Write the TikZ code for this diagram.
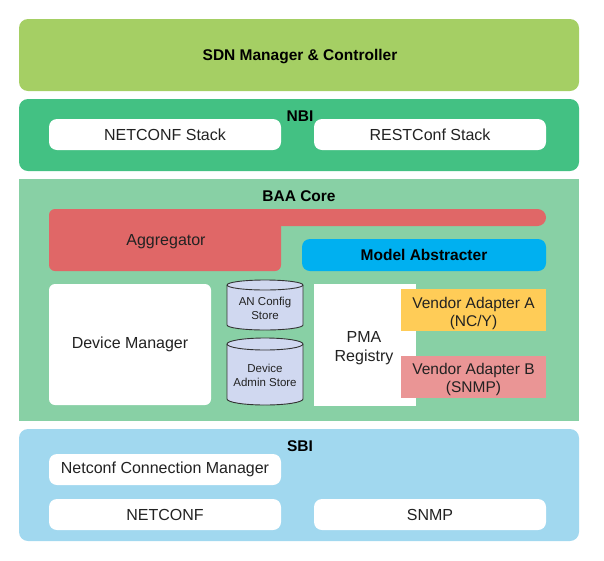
\documentclass[tikz,border=0pt]{standalone}
\usepackage{fontspec}
\setmainfont{Liberation Sans}
\definecolor{sdncol}{HTML}{A5CF64}
\definecolor{nbicol}{HTML}{43C183}
\definecolor{baacol}{HTML}{88D0A5}
\definecolor{aggcol}{HTML}{E06767}
\definecolor{modcol}{HTML}{00B0F0}
\definecolor{cylcol}{HTML}{D0D8F0}
\definecolor{vacol}{HTML}{FFCC57}
\definecolor{vbcol}{HTML}{EA9595}
\definecolor{sbicol}{HTML}{A1D8EF}
\definecolor{txtcol}{HTML}{222222}
\begin{document}
\begin{tikzpicture}[x=1pt,y=-1pt,
  outerbox/.style={rounded corners=9pt,inner sep=0pt,minimum width=560pt},
  innerbox/.style={fill=white,rounded corners=8pt,inner sep=0pt,minimum width=232pt,minimum height=31pt,
    font=\fontsize{16}{19}\selectfont,text=txtcol},
  title/.style={font=\fontsize{15.5}{18}\selectfont\bfseries,text=black,inner sep=0pt},
  txt/.style={font=\fontsize{16}{19}\selectfont,text=txtcol,inner sep=0pt,align=center},
  vtxt/.style={font=\fontsize{15.5}{18.5}\selectfont,text=txtcol,inner sep=0pt,align=center},
  cyl/.style={draw=black!80,fill=cylcol,line width=0.9pt},
  cyltxt/.style={font=\fontsize{11.5}{14}\selectfont,text=txtcol,inner sep=0pt,align=center}]
\useasboundingbox (0,0) rectangle (604,560);
% SDN
\node[outerbox,fill=sdncol,minimum height=72pt] (sdn) at (299,55) {};
\node[title] (sdnt) at (300,56.5) {SDN Manager \& Controller};
% NBI
\node[outerbox,fill=nbicol,minimum height=72pt] (nbi) at (299,135) {};
\node[innerbox] (ncs) at (165,134.5) {NETCONF Stack};
\node[innerbox] (rcs) at (430,134.5) {RESTConf Stack};
\node[title] (nbit) at (300,116) {NBI};
% BAA core
\node[fill=baacol,inner sep=0pt,minimum width=560pt,minimum height=242pt] (baa) at (299,300) {};
\node[title] (baat) at (299,196) {BAA Core};
\fill[aggcol,rounded corners=8.5pt] (49,209) rectangle (546,226);
\fill[aggcol,rounded corners=6pt] (49,209) rectangle (281,271);
\node[txt] (agg) at (166,242) {Aggregator};
\node[fill=modcol,rounded corners=8pt,inner sep=0pt,minimum width=244pt,minimum height=32pt,
  font=\fontsize{15.5}{18}\selectfont\bfseries] (mod) at (424,255) {Model Abstracter};
\node[fill=white,rounded corners=6pt,minimum width=162pt,minimum height=121pt,txt] (dm) at (130,344.5) {Device Manager};
% cylinders
\draw[cyl] (227,285) -- (227,325) arc[start angle=180,end angle=360,x radius=38pt,y radius=5pt]
  -- (303,285) arc[start angle=0,end angle=180,x radius=38pt,y radius=5pt] -- cycle;
\draw[line width=0.9pt,draw=black!80] (227,285) arc[start angle=180,end angle=360,x radius=38pt,y radius=5pt];
\node[cyltxt] (anc) at (265,308.5) {AN Config\\Store};
\draw[cyl] (227,344) -- (227,399) arc[start angle=180,end angle=360,x radius=38pt,y radius=6pt]
  -- (303,344) arc[start angle=0,end angle=180,x radius=38pt,y radius=6pt] -- cycle;
\draw[line width=0.9pt,draw=black!80] (227,344) arc[start angle=180,end angle=360,x radius=38pt,y radius=6pt];
\node[cyltxt] (das) at (265,375) {Device\\Admin Store};
% PMA
\node[fill=white,inner sep=0pt,minimum width=102pt,minimum height=122pt] (pma) at (365,345) {};
\node[txt] (pmat) at (364,348) {PMA\\Registry};
\node[fill=vacol,inner sep=0pt,minimum width=145pt,minimum height=42pt] (va) at (473.5,310) {};
\node[vtxt] (vat) at (473.5,313.5) {Vendor Adapter A\\(NC/Y)};
\node[fill=vbcol,inner sep=0pt,minimum width=145pt,minimum height=42pt] (vb) at (473.5,377) {};
\node[vtxt] (vbt) at (473.5,379.5) {Vendor Adapter B\\(SNMP)};
% SBI
\node[outerbox,fill=sbicol,minimum height=112pt] (sbi) at (299,485) {};
\node[title] (sbit) at (300,446) {SBI};
\node[innerbox] (ncm) at (165,469.5) {Netconf Connection Manager};
\node[innerbox] (nc) at (165,514.5) {NETCONF};
\node[innerbox] (snmp) at (430,514.5) {SNMP};
\end{tikzpicture}
\end{document}
